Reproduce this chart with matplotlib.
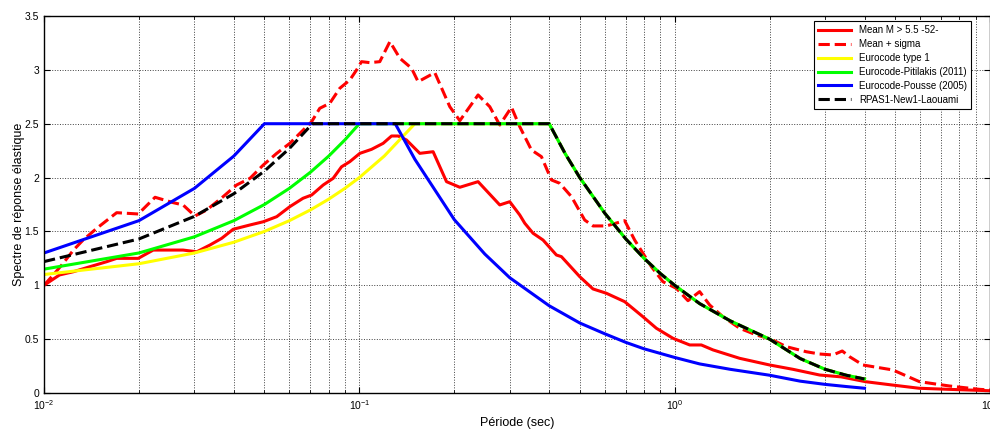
import matplotlib
matplotlib.use("Agg")
import matplotlib.pyplot as plt
from matplotlib.ticker import LogLocator, NullFormatter

plt.rcParams['font.family'] = ['Liberation Sans', 'DejaVu Sans']

# -------------------------- data ----------------------
# mean spectrum M > 5.5 (52 records)
t_mean = [0.01, 0.0112, 0.0124, 0.0140, 0.0158, 0.0170, 0.0199, 0.0222, 0.0257,
          0.0276, 0.0305, 0.0336, 0.0366, 0.0398, 0.0450, 0.0496, 0.0547, 0.0602,
          0.0663, 0.0706, 0.0768, 0.0826, 0.0878, 0.0933, 0.1004, 0.1093, 0.1190,
          0.1265, 0.1327, 0.1411, 0.1555, 0.1714, 0.1890, 0.2083, 0.2380, 0.2788,
          0.2999, 0.3226, 0.3347, 0.3556, 0.3825, 0.4217, 0.4374, 0.50, 0.5508,
          0.6073, 0.6941, 0.7933, 0.875, 0.9876, 1.116, 1.215, 1.323, 1.607,
          2.001, 2.371, 2.881, 3.37, 4.03, 4.9, 5.96, 7.4, 10.0]
sa_mean = [1.00, 1.096, 1.126, 1.173, 1.219, 1.250, 1.250, 1.327, 1.327,
           1.327, 1.311, 1.374, 1.436, 1.52, 1.56, 1.59, 1.637, 1.73,
           1.808, 1.838, 1.931, 1.993, 2.10, 2.148, 2.225, 2.262, 2.318,
           2.386, 2.386, 2.349, 2.225, 2.24, 1.962, 1.91, 1.962, 1.746,
           1.776, 1.653, 1.576, 1.483, 1.42, 1.281, 1.266, 1.08, 0.966,
           0.926, 0.848, 0.708, 0.601, 0.508, 0.446, 0.446, 0.40, 0.322,
           0.26, 0.22, 0.167, 0.15, 0.105, 0.074, 0.044, 0.034, 0.021]

# mean + sigma
t_sig = [0.01, 0.0107, 0.0115, 0.0124, 0.0133, 0.0147, 0.0170, 0.0199, 0.0225,
         0.0257, 0.0276, 0.0301, 0.0328, 0.0370, 0.0408, 0.0450, 0.0496, 0.0547,
         0.0602, 0.0648, 0.0706, 0.0749, 0.0806, 0.0867, 0.0933, 0.0980, 0.1016,
         0.1080, 0.1161, 0.1250, 0.1344, 0.1464, 0.1536, 0.1735, 0.1936, 0.2083,
         0.2380, 0.2592, 0.2788, 0.3037, 0.3226, 0.3514, 0.3780, 0.4066, 0.4320,
         0.4706, 0.5184, 0.5508, 0.6073, 0.6941, 0.7467, 0.8436, 0.9182, 1.0125,
         1.102, 1.200, 1.291, 1.423, 1.607, 1.816, 2.026, 2.260, 2.615, 2.881,
         3.175, 3.40, 3.586, 3.953, 4.918, 5.977, 7.44, 9.26, 10.0]
sa_sig = [1.00, 1.096, 1.204, 1.327, 1.42, 1.529, 1.674, 1.662, 1.817,
          1.767, 1.746, 1.643, 1.699, 1.823, 1.931, 1.993, 2.117, 2.225,
          2.318, 2.411, 2.519, 2.643, 2.69, 2.829, 2.906, 2.999, 3.076,
          3.067, 3.076, 3.262, 3.108, 3.015, 2.89, 2.974, 2.658, 2.528,
          2.767, 2.658, 2.488, 2.653, 2.473, 2.256, 2.194, 1.978, 1.947,
          1.823, 1.606, 1.551, 1.551, 1.60, 1.42, 1.173, 1.033, 0.972,
          0.857, 0.941, 0.817, 0.708, 0.601, 0.539, 0.498, 0.43, 0.383, 0.362,
          0.353, 0.39, 0.337, 0.26, 0.214, 0.105, 0.065, 0.034, 0.028]

# code spectra
t_code = [0.01, 0.02, 0.03, 0.04, 0.05, 0.06, 0.07, 0.08, 0.09, 0.10, 0.12, 0.15,
          0.40, 0.45, 0.50, 0.60, 0.70, 0.80, 0.90, 1.0, 1.2, 1.5, 2.0, 2.5, 3.0, 3.5, 4.0]
sa_ec1 = [1.10, 1.20, 1.30, 1.40, 1.50, 1.60, 1.70, 1.80, 1.90, 2.00, 2.20, 2.50,
          2.50, 2.22, 2.00, 1.67, 1.43, 1.25, 1.11, 1.00, 0.83, 0.67, 0.50, 0.32, 0.22, 0.165, 0.13]
sa_pit = [1.15, 1.30, 1.45, 1.60, 1.75, 1.90, 2.05, 2.20, 2.35, 2.50, 2.50, 2.50,
          2.50, 2.22, 2.00, 1.67, 1.43, 1.25, 1.11, 1.00, 0.83, 0.67, 0.50, 0.32, 0.22, 0.165, 0.13]

t_pou = [0.01, 0.02, 0.03, 0.04, 0.05, 0.13, 0.15, 0.20, 0.25, 0.30, 0.40, 0.50,
         0.60, 0.70, 0.80, 1.0, 1.2, 1.5, 2.0, 2.5, 3.0, 3.5, 4.0]
sa_pou = [1.30, 1.60, 1.90, 2.20, 2.50, 2.50, 2.17, 1.61, 1.29, 1.07, 0.81, 0.65,
          0.55, 0.47, 0.41, 0.33, 0.27, 0.22, 0.165, 0.11, 0.08, 0.06, 0.044]

t_rpa = [0.01, 0.02, 0.03, 0.04, 0.05, 0.06, 0.071, 0.40, 0.45, 0.50, 0.60, 0.70,
         0.80, 0.90, 1.0, 1.2, 1.5, 2.0, 2.5, 3.0, 3.5, 4.0]
sa_rpa = [1.22, 1.43, 1.64, 1.85, 2.06, 2.27, 2.50, 2.50, 2.22, 2.00, 1.67, 1.43,
          1.25, 1.11, 1.00, 0.83, 0.67, 0.50, 0.32, 0.22, 0.165, 0.13]

# -------------------------- plot -------------------------------------------
fig = plt.figure(figsize=(9.9, 4.29), dpi=100)
ax = fig.add_axes([44/990, 36/429, 946/990, 377/429])

lw = 2.2
ax.plot(t_mean, sa_mean, color='red', lw=lw, label='Mean M > 5.5 -52-')
ax.plot(t_sig, sa_sig, color='red', lw=lw, ls='--', label='Mean + sigma')
ax.plot(t_code, sa_ec1, color='yellow', lw=lw, label='Eurocode type 1')
ax.plot(t_code, sa_pit, color='#00ff00', lw=lw, label='Eurocode-Pitilakis (2011)')
ax.plot(t_pou, sa_pou, color='blue', lw=lw, label='Eurocode-Pousse (2005)')
ax.plot(t_rpa, sa_rpa, color='black', lw=lw, ls='--', label='RPAS1-New1-Laouami')

ax.set_xscale('log')
ax.set_xlim(0.01, 10)
ax.set_ylim(0, 3.5)
ax.set_yticks([0, 0.5, 1, 1.5, 2, 2.5, 3, 3.5])
ax.set_yticklabels(['0', '0.5', '1', '1.5', '2', '2.5', '3', '3.5'])
ax.xaxis.set_minor_locator(LogLocator(base=10, subs=range(2, 10)))
ax.xaxis.set_minor_formatter(NullFormatter())

ax.grid(True, which='major', color='0.25', ls=':', lw=0.7)
ax.grid(True, which='minor', axis='x', color='0.25', ls=':', lw=0.7)
ax.tick_params(which='both', direction='in', top=True, right=True, labelsize=7.5)
ax.tick_params(which='major', length=4)
ax.tick_params(which='minor', length=2)
for s in ax.spines.values():
    s.set_linewidth(1.0)

ax.set_xlabel('Période (sec)', fontsize=9, labelpad=4)
ax.set_ylabel('Spectre de réponse élastique', fontsize=9, labelpad=0)

leg = ax.legend(loc='upper right', bbox_to_anchor=(0.985, 0.9985), fontsize=7,
                fancybox=False, framealpha=1, edgecolor='black',
                handlelength=3.4, labelspacing=0.4, borderpad=0.4)
leg.get_frame().set_linewidth(0.8)

fig.savefig('out.png', dpi=100)
